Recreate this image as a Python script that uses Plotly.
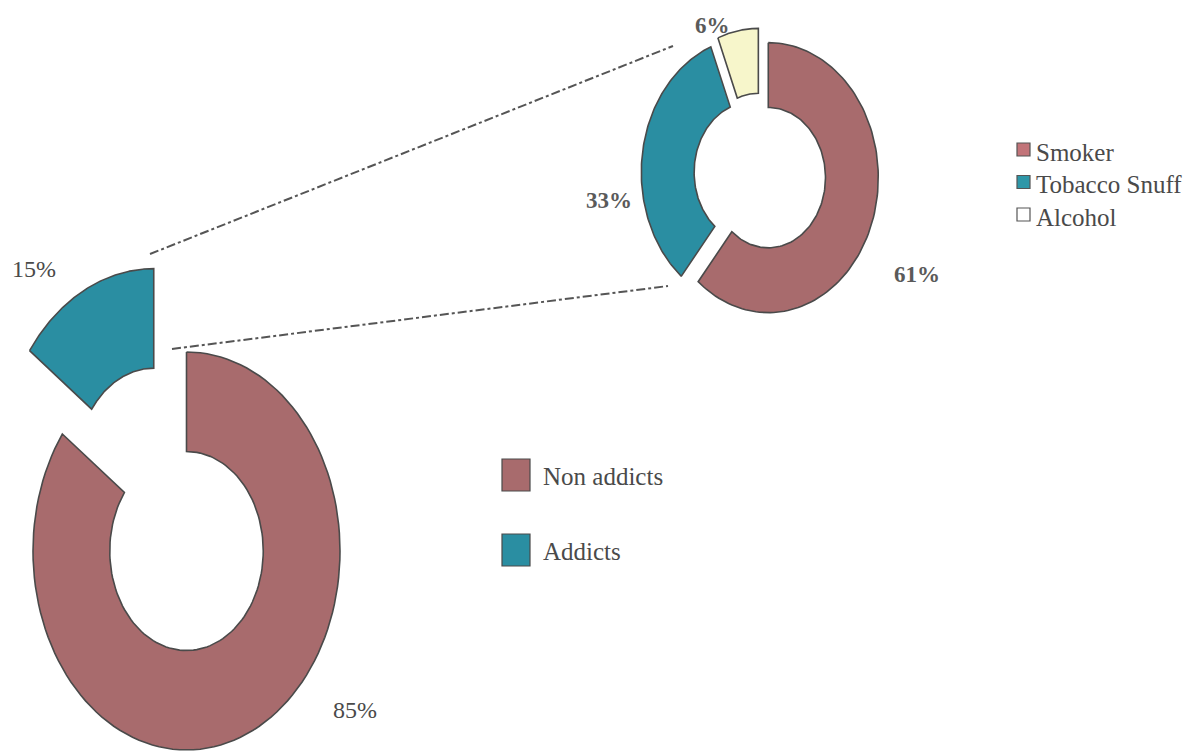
import numpy as np
import plotly.graph_objects as go

# Overall split of respondents
main_labels = ["Non addicts", "Addicts"]
main_values = [85, 15]

# Breakdown of the addicted group
sub_labels = ["Smoker", "Tobacco Snuff", "Alcohol"]
sub_values = [61, 33, 6]

# ---- styling -------------------------------------------------------------
W, H = 1191, 752
FONT = "Liberation Serif"
ROSE = "#A86B6D"
TEAL = "#2A8EA2"
CREAM = "#F7F6CB"
EDGE = "#4A4A4A"
TEXT = "#4A4A4A"

main_colors = [ROSE, TEAL]
sub_colors = [ROSE, TEAL, CREAM]
sub_key_colors = ["#C27479", "#2E97A8", "#FFFFFF"]

# ring geometry (canvas pixels, y grows downward)
MAIN_RING = dict(cx=186.5, cy=551, rx=153.5, ry=199, hole=0.5)
SUB_RING = dict(cx=760, cy=174, rx=110, ry=135, hole=0.52)
main_pull = [0.0, 0.47]
sub_pull = [0.08, 0.08, 0.08]

# label anchor points for each slice's percentage
main_label_pos = [(355, 710), (34, 269)]
sub_label_pos = [(917, 274), (609, 200), (712, 25)]

# dash-dot connectors from the exploded slice to the breakdown ring
connectors = [((150, 254), (673, 46)), ((172, 349), (668, 286))]


def ring_segment(cx, cy, rx, ry, hole, start, end, pull, n=120):
    """Outline of one doughnut segment; angles clockwise from 12 o'clock."""
    mid = np.radians((start + end) / 2)
    ox = pull * rx * np.sin(mid)
    oy = -pull * ry * np.cos(mid)
    t = np.radians(np.linspace(start, end, n))
    xo = cx + ox + rx * np.sin(t)
    yo = cy + oy - ry * np.cos(t)
    tr = t[::-1]
    xi = cx + ox + hole * rx * np.sin(tr)
    yi = cy + oy - hole * ry * np.cos(tr)
    x = np.concatenate([xo, xi, xo[:1]])
    y = np.concatenate([yo, yi, yo[:1]])
    return x, y


def add_ring(fig, ring, labels, values, colors, pulls):
    total = float(sum(values))
    acc = 0.0
    for lab, val, col, p in zip(labels, values, colors, pulls):
        start = 360.0 * acc / total
        acc += val
        end = 360.0 * acc / total
        x, y = ring_segment(ring["cx"], ring["cy"], ring["rx"], ring["ry"],
                            ring["hole"], start, end, p)
        fig.add_trace(go.Scatter(
            x=x, y=y, mode="lines", fill="toself", fillcolor=col,
            line=dict(color=EDGE, width=1.6), name=lab,
            hoverinfo="name", showlegend=False))


fig = go.Figure()

# connectors drawn first so slices sit on top
for (x0, y0), (x1, y1) in connectors:
    fig.add_trace(go.Scatter(
        x=[x0, x1], y=[y0, y1], mode="lines",
        line=dict(color="#555555", width=2, dash="dashdot"),
        hoverinfo="skip", showlegend=False))

add_ring(fig, MAIN_RING, main_labels, main_values, main_colors, main_pull)
add_ring(fig, SUB_RING, sub_labels, sub_values, sub_colors, sub_pull)

annotations = []
for v, (x, y) in zip(main_values, main_label_pos):
    annotations.append(dict(x=x, y=y, xref="x", yref="y", text=f"{v}%",
                            showarrow=False,
                            font=dict(family=FONT, size=24, color=TEXT)))
for v, (x, y) in zip(sub_values, sub_label_pos):
    annotations.append(dict(x=x, y=y, xref="x", yref="y", text=f"<b>{v}%</b>",
                            showarrow=False,
                            font=dict(family=FONT, size=23, color="#5A5A5A")))

shapes = []
# legend for the breakdown ring: small squares
for i, (lab, col) in enumerate(zip(sub_labels, sub_key_colors)):
    yc = 152 + 32.5 * i
    shapes.append(dict(type="rect", xref="x", yref="y",
                       x0=1017, x1=1030, y0=yc - 9, y1=yc + 4,
                       fillcolor=col,
                       line=dict(color="#555555", width=1.2)))
    annotations.append(dict(x=1034, y=yc, xref="x", yref="y", text=lab,
                            xanchor="left", showarrow=False,
                            font=dict(family=FONT, size=25, color=TEXT)))

# legend for the overall split: larger boxes
for i, (lab, col) in enumerate(zip(main_labels, main_colors)):
    yc = 476 + 75 * i
    shapes.append(dict(type="rect", xref="x", yref="y",
                       x0=502, x1=530, y0=yc - 17, y1=yc + 15,
                       fillcolor=col, line=dict(color=EDGE, width=1.2)))
    annotations.append(dict(x=541, y=yc, xref="x", yref="y", text=lab,
                            xanchor="left", showarrow=False,
                            font=dict(family=FONT, size=25, color=TEXT)))

fig.update_layout(
    width=W, height=H,
    margin=dict(l=0, r=0, t=0, b=0),
    paper_bgcolor="white", plot_bgcolor="white",
    xaxis=dict(range=[0, W], visible=False, fixedrange=True),
    yaxis=dict(range=[H, 0], visible=False, fixedrange=True),
    annotations=annotations, shapes=shapes,
    showlegend=False,
)

fig.write_html("out.html")
